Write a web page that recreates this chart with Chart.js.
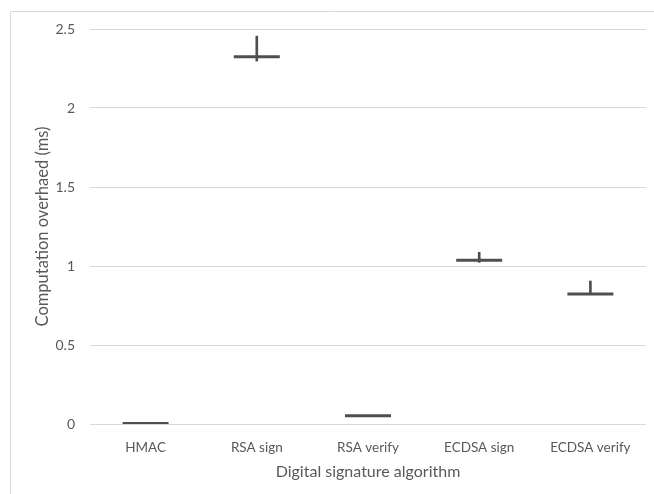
<!DOCTYPE html>
<html>
<head>
<meta charset="utf-8">
<script src="https://cdn.jsdelivr.net/npm/chart.js@4.4.1/dist/chart.umd.min.js"></script>
<style>
  html, body { margin: 0; padding: 0; background: #ffffff; }
  #wrap { width: 654px; height: 494px; position: relative; }
</style>
</head>
<body>
<div id="wrap"><canvas id="c" width="654" height="494"></canvas></div>
<script>
const categories = ['HMAC', 'RSA sign', 'RSA verify', 'ECDSA sign', 'ECDSA verify'];
const highValues = [0.004, 2.455, 0.056, 1.087, 0.905];
const lowValues  = [0.001, 2.297, 0.050, 1.023, 0.820];
const midValues  = [0.003, 2.325, 0.053, 1.036, 0.822];
const yTicks = [0, 0.5, 1, 1.5, 2, 2.5];
const yTickLabels = ['0', '0.5', '1', '1.5', '2', '2.5'];

const ranges = categories.map((c, i) => [lowValues[i], highValues[i]]);

const frame = {
  id: 'frame',
  beforeDraw(chart) {
    const ctx = chart.ctx;
    ctx.save();
    ctx.fillStyle = '#ffffff';
    ctx.fillRect(0, 0, chart.width, chart.height);
    ctx.strokeStyle = '#d9d9d9';
    ctx.lineWidth = 1;
    ctx.beginPath();
    ctx.moveTo(10.5, 700);
    ctx.lineTo(10.5, 11.5);
    ctx.lineTo(900, 11.5);
    ctx.stroke();
    ctx.restore();
  }
};

const lineCol = '#4f4f4f';
const fontFam = 'Lato, "Open Sans", sans-serif';

new Chart(document.getElementById('c'), {
  type: 'bar',
  data: {
    labels: categories,
    datasets: [
      {
        type: 'line',
        label: 'mid',
        data: midValues,
        showLine: false,
        pointStyle: 'line',
        pointRadius: 23,
        pointHoverRadius: 23,
        pointBorderWidth: 3,
        pointBorderColor: lineCol,
        borderColor: lineCol,
        order: 0
      },
      {
        type: 'bar',
        label: 'range',
        data: ranges,
        backgroundColor: lineCol,
        borderWidth: 0,
        barThickness: 2,
        grouped: false,
        order: 1
      }
    ]
  },
  options: {
    responsive: false,
    animation: false,
    devicePixelRatio: 1,
    layout: { autoPadding: false, padding: { top: 29, right: 8, left: 0, bottom: 0 } },
    plugins: { legend: { display: false }, tooltip: { enabled: false } },
    scales: {
      x: {
        offset: true,
        grid: { display: false },
        border: { display: false },
        ticks: { color: '#595959', font: { family: fontFam, size: 13.5 }, padding: 8, maxRotation: 0 },
        title: {
          display: true,
          text: 'Digital signature algorithm',
          color: '#595959',
          font: { family: fontFam, size: 16 },
          padding: { top: 0, bottom: 13 }
        },
        afterFit(scale) { scale.height = 70; scale.paddingLeft = 0; scale.paddingRight = 0; }
      },
      y: {
        min: 0,
        max: 2.5,
        afterBuildTicks(scale) { scale.ticks = yTicks.map(v => ({ value: v })); },
        grid: { color: '#d9d9d9', drawTicks: false, lineWidth: 1 },
        border: { display: false },
        ticks: {
          color: '#595959',
          font: { family: fontFam, size: 14 },
          padding: 15,
          callback: (v) => yTickLabels[yTicks.indexOf(v)]
        },
        title: {
          display: true,
          text: 'Computation overhaed (ms)',
          color: '#595959',
          font: { family: fontFam, size: 16.5 },
          padding: { top: 33, bottom: 0 }
        },
        afterFit(scale) { scale.width = 90; scale.paddingTop = 0; scale.paddingBottom = 0; }
      }
    }
  },
  plugins: [frame]
});
</script>
</body>
</html>
